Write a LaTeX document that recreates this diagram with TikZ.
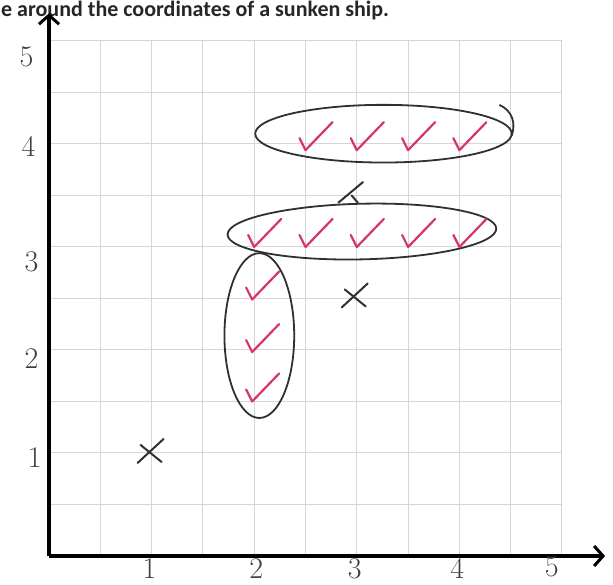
\documentclass[tikz,border=0pt]{standalone}
\usepackage{fontspec}
\newfontfamily\headfont{Carlito}
\usetikzlibrary{arrows.meta}
\definecolor{tickred}{RGB}{214,52,112}
\definecolor{gridgray}{RGB}{214,214,214}
\definecolor{penink}{RGB}{48,48,48}

\begin{document}
\begin{tikzpicture}[
  x=102.6pt, y=103pt,
  gridline/.style={gridgray, line width=1pt},
  axis/.style={line width=3.6pt, -{Straight Barb[length=9pt, width=20pt, line width=3pt]}},
  num/.style={font=\fontsize{30}{32}\selectfont, text=black!75, inner sep=0pt},
  ring/.style={penink, line width=1.8pt},
  checkline/.style={tickred, line width=2.2pt, line cap=round, line join=round},
  crossline/.style={penink, line width=2pt, line cap=round},
  tickmark/.pic={\draw[checkline] (-6pt,12pt) -- (0,0) -- (27pt,28pt);},
  crossmark/.pic={\draw[crossline] (-13pt,-11pt) -- (13pt,13pt);
                  \draw[crossline] (-10pt,7pt) -- (11pt,-10pt);}
]
  \useasboundingbox (-49pt,-29pt) rectangle (564pt,556pt);

  % header line
  \node[anchor=base west, inner sep=0pt, text=black!85,
        font=\headfont\bfseries\fontsize{22}{24}\selectfont] (title)
        at (-48pt,539pt) {e around the coordinates of a sunken ship.};

  % grid and axes
  \draw[gridline, xstep=0.5, ystep=0.5] (0,0) grid (5,5);
  \coordinate (O) at (0,0);
  \coordinate (xend) at (5.42,0);
  \coordinate (yend) at (0,5.27);
  \draw[axis] (O) -- (xend);
  \draw[axis] (O) -- (yend);

  % axis numbers
  \foreach \v/\lx/\ly in {1/-0.14/0.96, 2/-0.17/1.92, 3/-0.17/2.86, 4/-0.2/3.98, 5/-0.22/4.85}
    \node[num] (ylab\v) at (\lx,\ly) {\v};
  \foreach \v/\lx/\ly in {1/0.98/-0.12, 2/2.02/-0.12, 3/2.98/-0.12, 4/3.98/-0.12, 5/4.9/-0.11}
    \node[num] (xlab\v) at (\lx,\ly) {\v};

  % rings
  \draw[ring] (3.26,4.1) ellipse [x radius=1.25, y radius=0.28];
  \draw[ring] (4.39,4.38) .. controls (4.52,4.32) and (4.55,4.2) .. (4.51,4.08);
  \draw[ring, rotate around={1.3:(3.05,3.15)}] (3.05,3.15) ellipse [x radius=1.31, y radius=0.27];
  \draw[ring] (2.05,2.14) ellipse [x radius=0.34, y radius=0.8];

  % ticks
  \foreach \px in {2.5,3,3.5,4}
    \pic at (\px,3.94) {tickmark};
  \foreach \px in {2,2.5,3,3.5,4}
    \pic at (\px,3.0) {tickmark};
  \foreach \py in {2.49,1.98,1.5}
    \pic at (1.98,\py) {tickmark};

  % crosses
  \pic at (0.99,1.01) {crossmark};
  \pic at (2.98,2.52) {crossmark};
  \draw[crossline] (2.82,3.43) -- (3.06,3.63);
  \draw[crossline] (2.95,3.5) -- (3.01,3.43);
\end{tikzpicture}
\end{document}
